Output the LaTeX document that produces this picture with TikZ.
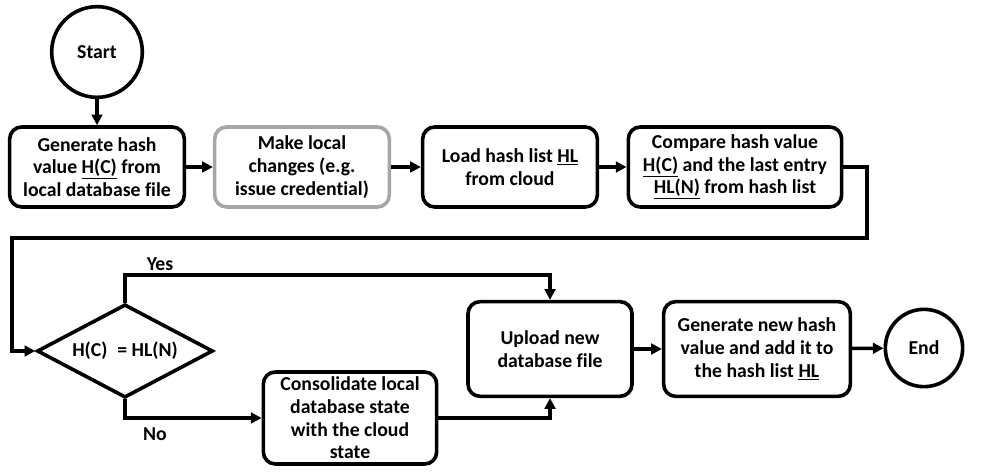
\documentclass[tikz,border=0pt]{standalone}
\usepackage{fontspec}
\setmainfont{Carlito}[Ligatures=CommonOff]
\usetikzlibrary{shapes.geometric,arrows.meta}

\begin{document}
\begin{tikzpicture}[x=0.75pt, y=-0.75pt, line width=2.7pt, >={Triangle[length=8pt,width=8pt]},
  font=\fontsize{14.8}{17}\selectfont\bfseries,
  proc/.style={draw, rounded corners=9pt, align=center, minimum height=60pt, inner sep=2pt},
  term/.style={draw, circle, inner sep=0pt},
  decide/.style={draw, diamond, aspect=1.9, inner sep=0pt, minimum width=132pt, minimum height=70pt}]

\useasboundingbox (0,0) rectangle (1003,473);

% first row
\node [term, minimum size=68pt] (start) at (97,52) {Start};
\node [proc, minimum width=131pt] (gen) at (97,167) {Generate hash\\value \underline{H(C)} from\\local database file};
\node [proc, minimum width=131pt, draw=black!35] (change) at (302,167) {Make local\\changes (e.g.\\issue credential)};
\node [proc, minimum width=131pt] (load) at (510,167) {Load hash list \underline{HL}\\from cloud};
\node [proc, minimum width=160pt] (cmp) at (735,167) {Compare hash value\\\underline{H(C)} and the last entry\\\underline{HL(N)} from hash list};

% second row
\node [decide] (check) at (125,351) {H(C)\enspace= HL(N)};
\node [proc, minimum width=130pt, minimum height=69pt] (cons) at (350,418) {Consolidate local\\database state\\with the cloud\\state};
\node [proc, minimum width=123pt, minimum height=71pt] (upload) at (550,349) {Upload new\\database file};
\node [proc, minimum width=140pt, minimum height=71pt] (newhash) at (757,349) {Generate new hash\\value and add it to\\the hash list \underline{HL}};
\node [term, minimum size=58pt] (end) at (924,348) {End};

\node (yeslbl) at (160,264) {Yes};
\node (nolbl) at (155,434) {No};

\coordinate (c1) at (867,238); %vuelta a la derecha
\coordinate (c2) at (12,238);  %vuelta a la izquierda
\coordinate (yes) at (300,275);

\draw [->] (start) -- (gen);
\draw [->] (gen) -- (change);
\draw [->] (change) -- (load);
\draw [->] (load) -- (cmp);
\draw [->] (cmp.east) -| (c1) -- (c2) |- (check.west);
\draw [->] (check.north) |- (yes) -| (upload.north);
\draw [->] (check.south) |- (cons.west);
\draw [->] (cons.east) -| (upload.south);
\draw [->] (upload) -- (newhash);
\draw [->] (newhash) -- (end);

\end{tikzpicture}
\end{document}
